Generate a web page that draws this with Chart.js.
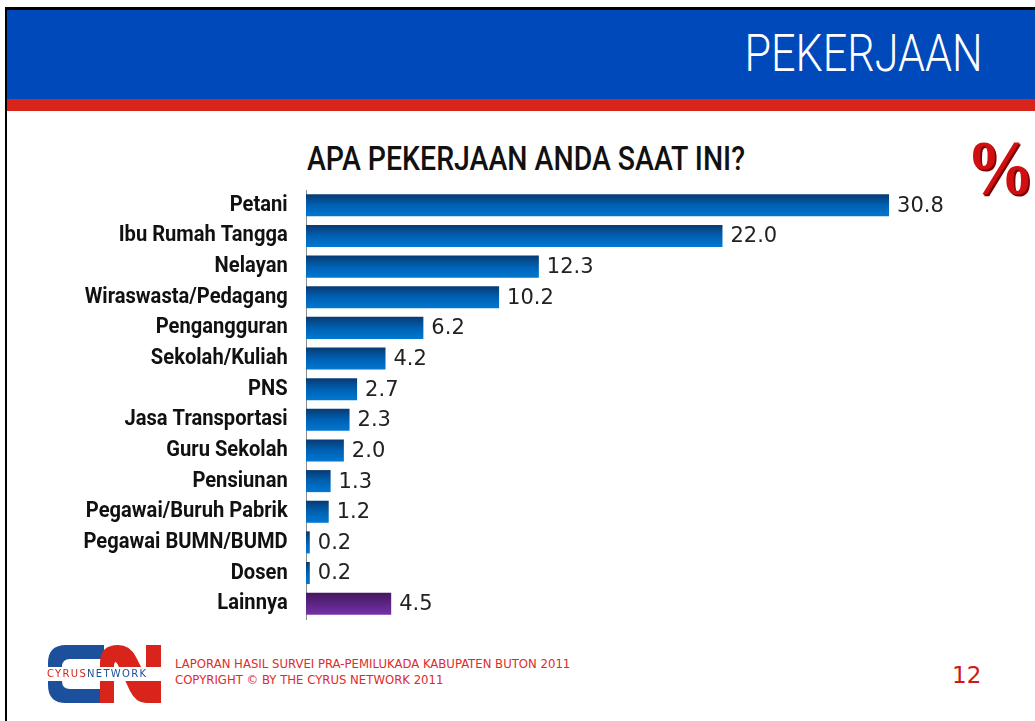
<!DOCTYPE html>
<html>
<head>
<meta charset="utf-8">
<script src="https://cdn.jsdelivr.net/npm/chart.js@4.4.1/dist/chart.umd.min.js"></script>
<style>
  html,body{margin:0;padding:0;background:#fff;}
  #slide{position:relative;width:1035px;height:721px;overflow:hidden;background:#fff;}
  #bl{position:absolute;left:5px;top:7px;width:2px;height:714px;background:#000;}
  #bt{position:absolute;left:5px;top:7px;width:1030px;height:3px;background:#000;}
  #blue{position:absolute;left:7px;top:10px;width:1028px;height:89px;background:#0049bb;}
  #red{position:absolute;left:7px;top:99px;width:1028px;height:12px;background:#d9241c;}
  .fit{position:absolute;white-space:nowrap;line-height:1;}
  #head{right:52px;top:28px;color:#fff;font-family:Roboto,"DejaVu Sans",sans-serif;font-size:51px;font-weight:300;transform-origin:right top;}
  #title{left:307px;top:142px;color:#111;font-family:Roboto,"DejaVu Sans",sans-serif;font-size:33px;font-weight:500;transform-origin:left top;}
  #pct{position:absolute;left:966px;top:129px;color:#d01010;font-family:"Liberation Serif","DejaVu Serif",serif;font-weight:bold;font-size:78px;line-height:1;text-shadow:1px 1px 0 #8a0000,2px 2px 0 #7a0000;transform:scaleX(0.88);transform-origin:left top;}
  #chartwrap{position:absolute;left:0;top:185px;width:1035px;height:440px;}
  #foot{position:absolute;left:175px;top:656px;color:#e02a2a;font-family:"DejaVu Sans Condensed",sans-serif;font-size:13px;line-height:16px;}
  #pg{position:absolute;left:952px;top:662px;color:#d01818;font-family:"DejaVu Sans",sans-serif;font-size:23px;}
  #logo{position:absolute;left:46px;top:643px;}
</style>
</head>
<body>
<div id="slide">
  <div id="blue"></div><div id="red"></div>
  <div id="bt"></div><div id="bl"></div>
  <div id="head" class="fit" data-w="238">PEKERJAAN</div>
  <div id="title" class="fit" data-w="438">APA PEKERJAAN ANDA SAAT INI?</div>
  <div id="pct">%</div>
  <div id="chartwrap"><canvas id="c" width="1035" height="440"></canvas></div>
  <canvas id="logo" width="118" height="62"></canvas>
  <div id="foot" class="fitw" data-w="398">LAPORAN HASIL SURVEI PRA-PEMILUKADA KABUPATEN BUTON 2011<br>COPYRIGHT © BY THE CYRUS NETWORK 2011</div>
  <div id="pg">12</div>
</div>
<script>
const categories = ["Petani","Ibu Rumah Tangga","Nelayan","Wiraswasta/Pedagang","Pengangguran","Sekolah/Kuliah","PNS","Jasa Transportasi","Guru Sekolah","Pensiunan","Pegawai/Buruh Pabrik","Pegawai BUMN/BUMD","Dosen","Lainnya"];
const values = [30.8,22.0,12.3,10.2,6.2,4.2,2.7,2.3,2.0,1.3,1.2,0.2,0.2,4.5];
const valueLabels = ["30.8","22.0","12.3","10.2","6.2","4.2","2.7","2.3","2.0","1.3","1.2","0.2","0.2","4.5"];
const xMax = 36.66;

// fit header/title text widths
document.querySelectorAll('.fit').forEach(el=>{
  const w = el.getBoundingClientRect().width;
  const target = +el.dataset.w;
  el.style.transform = 'scaleX(' + (target / w) + ')';
});

const LABEL_FONT = { family:'Roboto,"DejaVu Sans",sans-serif', size:22, weight:'bold' };
const BAR_PCT = 0.72;

function barFill(ctx){
  const chart = ctx.chart;
  const i = ctx.dataIndex;
  const ys = chart.scales && chart.scales.y;
  if(!ys || !chart.chartArea) return i===13 ? '#6a2a9a' : '#0063b8';
  const yc = ys.getPixelForValue(i);
  const band = (ys.bottom - ys.top) / categories.length;
  const h = band * BAR_PCT;
  const g = chart.ctx.createLinearGradient(0, yc - h/2, 0, yc + h/2);
  if(i===13){ g.addColorStop(0,'#44165f'); g.addColorStop(1,'#7432a8'); }
  else { g.addColorStop(0,'#083a72'); g.addColorStop(0.5,'#0060b2'); g.addColorStop(1,'#0078d2'); }
  return g;
}

const valuePlugin = {
  id:'vals',
  afterDatasetsDraw(chart){
    const ctx = chart.ctx;
    const meta = chart.getDatasetMeta(0);
    ctx.save();
    ctx.font = '21px "DejaVu Sans", sans-serif';
    ctx.fillStyle = '#222';
    ctx.textBaseline = 'middle';
    ctx.textAlign = 'left';
    meta.data.forEach((bar,i)=>{
      ctx.fillText(valueLabels[i], bar.x + 8, bar.y + 1);
    });
    ctx.restore();
  }
};

// condense the library's own category labels horizontally (around the axis line)
let labelScaleK = 0.9;
const condensePlugin = {
  id:'condense',
  beforeDraw(chart){
    const s = chart.scales.y;
    if(s._condensed) return;
    s._condensed = true;
    const orig = s.drawLabels.bind(s);
    s.drawLabels = function(area){
      const ctx = chart.ctx;
      ctx.save();
      ctx.translate(s.right, 0);
      ctx.scale(labelScaleK, 1);
      ctx.translate(-s.right, 0);
      orig(area);
      ctx.restore();
    };
  }
};

(function(){
  const m = document.createElement('canvas').getContext('2d');
  m.font = LABEL_FONT.weight + ' ' + LABEL_FONT.size + 'px ' + LABEL_FONT.family;
  const w = m.measureText('Wiraswasta/Pedagang').width;
  labelScaleK = 203 / w;
})();

new Chart(document.getElementById('c'), {
  type:'bar',
  data:{ labels:categories, datasets:[{ data:values, backgroundColor:barFill, borderWidth:0, barPercentage:BAR_PCT, categoryPercentage:1.0 }]},
  options:{
    indexAxis:'y',
    responsive:false,
    animation:false,
    layout:{ padding:{ top:5, bottom:6, right:35, left:0 } },
    plugins:{ legend:{display:false}, tooltip:{enabled:false} },
    scales:{
      x:{ display:false, min:0, max:xMax },
      y:{
        grid:{ display:false, drawTicks:false },
        border:{ display:true, color:'#8c8c8c', width:1 },
        ticks:{ color:'#111', padding:Math.round(18/labelScaleK), font:LABEL_FONT },
        afterFit(scale){ scale.width = 306; scale.paddingTop = 0; scale.paddingBottom = 0; }
      }
    }
  },
  plugins:[valuePlugin, condensePlugin]
});

// logo
(function(){
  const c = document.getElementById('logo').getContext('2d');
  c.fillStyle = '#1c4f9c';
  c.beginPath();
  c.moveTo(58,2); c.lineTo(20,2); c.quadraticCurveTo(2,2,2,20); c.lineTo(2,42); c.quadraticCurveTo(2,60,20,60); c.lineTo(58,60);
  c.lineTo(58,46); c.lineTo(24,46); c.quadraticCurveTo(16,46,16,38); c.lineTo(16,24); c.quadraticCurveTo(16,16,24,16); c.lineTo(58,16); c.closePath(); c.fill();
  c.fillStyle = '#d9241c';
  c.beginPath();
  c.moveTo(54,60); c.lineTo(54,20); c.quadraticCurveTo(54,2,72,2); c.quadraticCurveTo(84,2,90,14); c.lineTo(100,34); c.lineTo(100,2); c.lineTo(115,2); c.lineTo(115,60);
  c.lineTo(100,60); c.quadraticCurveTo(90,60,84,48); c.lineTo(72,22); c.quadraticCurveTo(69,16,68,22); c.lineTo(68,60); c.closePath(); c.fill();
  c.fillStyle = '#fff'; c.fillRect(0,24,118,14);
  c.font = '10px "DejaVu Sans", sans-serif'; c.textBaseline='middle';
  try { c.letterSpacing = '1.3px'; } catch(e){}
  c.fillStyle = '#d9241c'; c.fillText('CYRUS', 1, 31);
  const w = c.measureText('CYRUS').width;
  c.fillStyle = '#1c4f9c'; c.fillText('NETWORK', 1 + w, 31);
})();
</script>
</body>
</html>
